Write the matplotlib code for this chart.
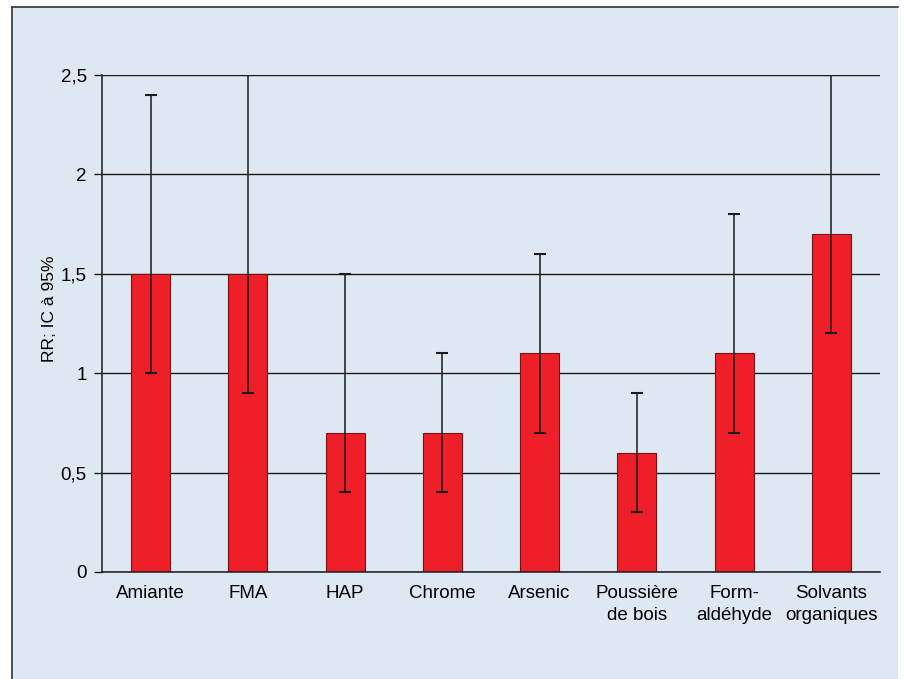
import numpy as np
import matplotlib.pyplot as plt
from matplotlib.lines import Line2D
from matplotlib.patches import Rectangle

plt.rcParams['font.family'] = ['Liberation Sans', 'DejaVu Sans']

categories = ['Amiante', 'FMA', 'HAP', 'Chrome', 'Arsenic',
              'Poussière\nde bois', 'Form-\naldéhyde', 'Solvants\norganiques']
rr = [1.5, 1.5, 0.7, 0.7, 1.1, 0.6, 1.1, 1.7]
ic_low = [1.0, 0.9, 0.4, 0.4, 0.7, 0.3, 0.7, 1.2]
ic_high = [2.4, 2.5, 1.5, 1.1, 1.6, 0.9, 1.8, 2.5]
yticks = [0, 0.5, 1, 1.5, 2, 2.5]
ytick_labels = ['0', '0,5', '1', '1,5', '2', '2,5']

fig = plt.figure(figsize=(9.06, 6.79), dpi=100)
fig.patch.set_facecolor('white')

# panel behind the chart
bg = '#dee8f2'
fig.patches.append(Rectangle((12 / 906, 0), (898 - 12) / 906, (679 - 7) / 679,
                             transform=fig.transFigure, facecolor=bg,
                             edgecolor='none', zorder=-10))
fig.lines.append(Line2D([12 / 906, 12 / 906], [0, 1 - 7 / 679],
                        transform=fig.transFigure, color='#333333', lw=1.2,
                        zorder=-9))
fig.lines.append(Line2D([12 / 906, 898 / 906], [1 - 7 / 679, 1 - 7 / 679],
                        transform=fig.transFigure, color='#333333', lw=1.2,
                        zorder=-9))

ax = fig.add_axes([102 / 906, 107 / 679, (880 - 102) / 906, (572 - 75) / 679])
ax.set_facecolor('none')

x = np.arange(len(categories))
ax.bar(x, rr, width=0.4, color='#ef1f2a', edgecolor='#7a1015',
       linewidth=0.8, zorder=2)
err = [np.array(rr) - np.array(ic_low), np.array(ic_high) - np.array(rr)]
ax.errorbar(x, rr, yerr=err, fmt='none', ecolor='#1a1a1a', elinewidth=1.1,
            capsize=4.5, capthick=1.5, zorder=3)

ax.set_xlim(-0.5, len(categories) - 0.5)
ax.set_ylim(0, 2.5)
ax.set_yticks(yticks)
ax.set_yticklabels(ytick_labels, fontsize=13.5)
ax.set_xticks(x)
ax.set_xticklabels(categories, fontsize=13.5, linespacing=1.45)
ax.tick_params(axis='x', length=0, pad=9)
ax.tick_params(axis='y', length=6, width=1, pad=5, color='#1a1a1a')
ax.yaxis.grid(True, color='#1a1a1a', linewidth=1)
ax.set_axisbelow(True)

for side in ['top', 'right']:
    ax.spines[side].set_visible(False)
for side in ['left', 'bottom']:
    ax.spines[side].set_color('#1a1a1a')
    ax.spines[side].set_linewidth(1.1)

ax.set_ylabel('RR; IC à 95%', fontsize=12.5)
ax.yaxis.set_label_coords(-0.058, 0.53)

fig.savefig('out.png', dpi=100, facecolor=fig.get_facecolor())
